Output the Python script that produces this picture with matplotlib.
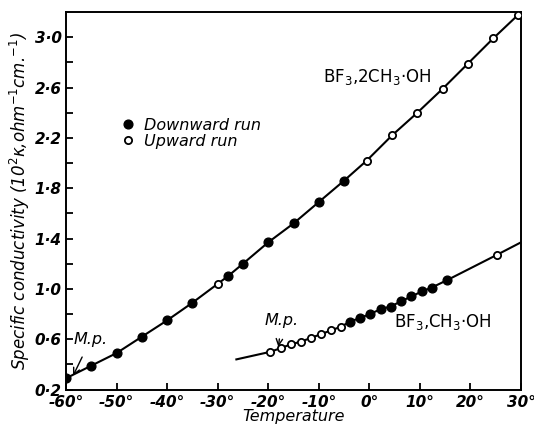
import matplotlib
matplotlib.use('Agg')
import numpy as np
from matplotlib import pyplot as plt

# BF3,2CH3.OH (upper curve)
up2_down_T = [-60, -55, -50, -45, -40, -35, -28, -25, -20, -15, -10, -5]
up2_down_k = [0.29, 0.39, 0.49, 0.62, 0.75, 0.89, 1.10, 1.20, 1.37, 1.52, 1.69, 1.86]
up2_up_T = [-30, -0.5, 4.5, 9.5, 14.5, 19.5, 24.5, 29.5]
up2_up_k = [1.04, 2.02, 2.22, 2.40, 2.59, 2.79, 2.99, 3.18]

# BF3,CH3.OH (lower curve)
lo_up_T = [-19.6, -17.5, -15.5, -13.6, -11.6, -9.6, -7.6, -5.6, 25.2]
lo_up_k = [0.50, 0.53, 0.56, 0.58, 0.61, 0.64, 0.67, 0.70, 1.27]
lo_down_T = [-3.8, -1.8, 0.1, 2.3, 4.2, 6.2, 8.3, 10.4, 12.3, 15.4]
lo_down_k = [0.74, 0.77, 0.80, 0.84, 0.86, 0.90, 0.94, 0.98, 1.01, 1.07]
# ends of the drawn line beyond the points
lo_line_T = [-26.3, 30]
lo_line_k = [0.44, 1.37]

x_ticks = [-60, -50, -40, -30, -20, -10, 0, 10, 20, 30]
y_ticks = [0.2, 0.6, 1.0, 1.4, 1.8, 2.2, 2.6, 3.0]
y_minor = [0.4, 0.8, 1.2, 1.6, 2.0, 2.4, 2.8]

fig = plt.figure(figsize=(5.34, 4.26), dpi=100)
ax = fig.add_axes([66/534, 1-389.6/426, (521-66)/534, (389.6-12)/426])

# upper curve line through all points
T = np.array(up2_down_T + up2_up_T)
k = np.array(up2_down_k + up2_up_k)
o = np.argsort(T)
ax.plot(T[o], k[o], color='black', lw=1.5, zorder=1)

T = np.array(lo_line_T[:1] + lo_up_T + lo_down_T + lo_line_T[1:])
k = np.array(lo_line_k[:1] + lo_up_k + lo_down_k + lo_line_k[1:])
o = np.argsort(T)
ax.plot(T[o], k[o], color='black', lw=1.5, zorder=1)

filled = dict(ls='none', marker='o', ms=6.3, mfc='black', mec='black', zorder=3)
opened = dict(ls='none', marker='o', ms=5.2, mfc='white', mec='black', mew=1.3, zorder=3)
ax.plot(up2_down_T, up2_down_k, label='Downward run', **filled)
ax.plot(up2_up_T, up2_up_k, label='Upward run', **opened)
ax.plot(lo_down_T, lo_down_k, **filled)
ax.plot(lo_up_T, lo_up_k, **opened)

ax.set_xlim(-60, 30)
ax.set_ylim(0.2, 3.2)
ax.set_xticks(x_ticks)
ax.set_xticklabels(['%d°' % t for t in x_ticks])
ax.set_yticks(y_ticks)
ax.set_yticklabels([('%.1f' % v).replace('.', '·') for v in y_ticks])
ax.set_yticks(y_minor, minor=True)
ax.tick_params(which='both', direction='in', width=1.3, length=5, labelsize=11)
ax.tick_params(axis='y', pad=3)
ax.tick_params(axis='x', pad=4)
for lab in ax.get_xticklabels() + ax.get_yticklabels():
    lab.set_fontweight('bold')
    lab.set_fontstyle('italic')
for s in ax.spines.values():
    s.set_linewidth(1.4)

ax.set_xlabel('Temperature', fontsize=11.5, style='italic', labelpad=-1)
ax.set_ylabel('Specific conductivity (10$^2$κ,ohm$^{-1}$cm.$^{-1}$)',
              fontsize=12, style='italic', labelpad=2)

ax.text(-9.1, 2.68, 'BF$_3$,2CH$_3$·OH', fontsize=12, va='center', ha='left')
ax.text(4.8, 0.74, 'BF$_3$,CH$_3$·OH', fontsize=12, va='center', ha='left')

ax.annotate('M.p.', xy=(-58.6, 0.31), xytext=(-55.1, 0.60), fontsize=11.5,
            style='italic', ha='center', va='center',
            arrowprops=dict(arrowstyle='->', lw=1, color='black',
                            shrinkA=6, shrinkB=0))
ax.annotate('M.p.', xy=(-18.0, 0.54), xytext=(-17.3, 0.75), fontsize=11.5,
            style='italic', ha='center', va='center',
            arrowprops=dict(arrowstyle='->', lw=1, color='black',
                            shrinkA=6, shrinkB=0))

leg = ax.legend(loc='upper left', bbox_to_anchor=(120/534, 1-118/426),
                bbox_transform=fig.transFigure, frameon=False, fontsize=11.5,
                handlelength=1.0, handletextpad=0.5, labelspacing=0.05,
                borderpad=0, borderaxespad=0)
for t in leg.get_texts():
    t.set_fontstyle('italic')

plt.savefig('out.png', dpi=100)
plt.close()
